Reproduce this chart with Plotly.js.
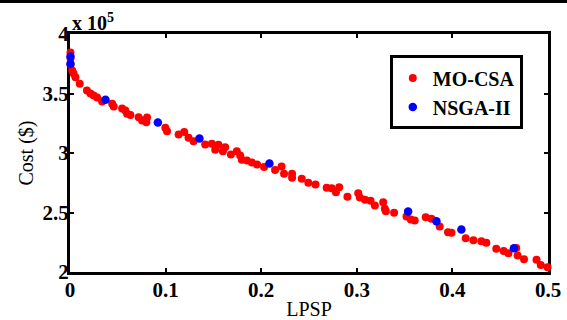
<!DOCTYPE html>
<html>
<head>
<meta charset="utf-8">
<script src="https://cdn.plot.ly/plotly-3.0.1.min.js"></script>
<style>html,body{margin:0;padding:0;background:#fff;}#chart{width:567px;height:320px;}</style>
</head>
<body>
<div id="chart"></div>
<script>
// LPSP values and cost (x 10^5 $)
const moCsaLpsp = [0.0005,0.0005,0.0005,0.0023,0.0037,0.0057,0.0102,0.0177,0.0214,0.0248,0.0284,0.0336,0.0441,0.0457,0.0545,0.0579,0.0597,0.0632,0.0718,0.0754,0.0806,0.0799,0.0997,0.1015,0.1136,0.1195,0.1240,0.1292,0.1414,0.1484,0.1519,0.1553,0.1599,0.1623,0.1683,0.1745,0.1780,0.1797,0.1850,0.1902,0.1957,0.2030,0.2145,0.2213,0.2239,0.2323,0.2323,0.2424,0.2493,0.2568,0.2685,0.2737,0.2782,0.2816,0.2902,0.3015,0.3032,0.3085,0.3144,0.3189,0.3276,0.3293,0.3304,0.3390,0.3520,0.3565,0.3606,0.3721,0.3781,0.3867,0.3954,0.3990,0.4139,0.4220,0.4303,0.4355,0.4459,0.4536,0.4586,0.4668,0.4682,0.4749,0.4880,0.4924,0.4995];
const moCsaCost = [3.845,3.794,3.744,3.693,3.668,3.637,3.582,3.525,3.500,3.483,3.466,3.433,3.413,3.391,3.374,3.357,3.329,3.319,3.301,3.273,3.298,3.259,3.212,3.183,3.155,3.176,3.128,3.099,3.071,3.077,3.027,3.069,3.015,3.049,2.987,3.015,2.979,2.943,2.937,2.920,2.903,2.882,2.857,2.887,2.825,2.825,2.792,2.783,2.750,2.735,2.708,2.704,2.671,2.713,2.632,2.662,2.626,2.607,2.598,2.559,2.587,2.531,2.511,2.497,2.466,2.441,2.433,2.461,2.447,2.382,2.334,2.329,2.284,2.267,2.259,2.245,2.196,2.176,2.158,2.202,2.139,2.108,2.103,2.059,2.040];
const nsgaLpsp = [0.0005,0.0005,0.0371,0.0919,0.1354,0.2086,0.3537,0.3833,0.4094,0.4643];
const nsgaCost = [3.811,3.750,3.447,3.256,3.122,2.912,2.508,2.427,2.357,2.200];
const xTicks = [0,0.1,0.2,0.3,0.4,0.5];
const xTickText = ['0','0.1','0.2','0.3','0.4','0.5'];
const yTicks = [2,2.5,3,3.5,4];
const yTickText = ['2','2.5','3','3.5','4'];
const seriesNames = ['MO-CSA','NSGA-II'];

const FONT = '"Liberation Serif"';

const traces = [
  {x: moCsaLpsp, y: moCsaCost, name: '<b>' + seriesNames[0] + '</b>', type: 'scatter', mode: 'markers',
   marker: {color: '#ff0000', size: 8}, cliponaxis: false},
  {x: nsgaLpsp, y: nsgaCost, name: '<b>' + seriesNames[1] + '</b>', type: 'scatter', mode: 'markers',
   marker: {color: '#0000ff', size: 8.5}, cliponaxis: false}
];

const axisCommon = {
  showgrid: false, zeroline: false, showline: true, linecolor: '#000', linewidth: 3,
  mirror: 'ticks', ticks: 'inside', ticklen: 4, tickwidth: 2, tickcolor: '#000',
  tickfont: {family: FONT, size: 21, color: '#000'},
  layer: 'below traces'
};

const layout = {
  width: 567, height: 320,
  margin: {l: 70, r: 19, t: 34, b: 48},
  paper_bgcolor: '#fff', plot_bgcolor: '#fff',
  showlegend: true,
  xaxis: Object.assign({}, axisCommon, {
    range: [0, 0.5], tickvals: xTicks, ticktext: xTickText.map(t => '<b>' + t + '</b>'),
    ticklabelstandoff: -3,
    title: {text: 'LPSP', font: {family: FONT, size: 20, color: '#000'}, standoff: 2}
  }),
  yaxis: Object.assign({}, axisCommon, {
    range: [2, 4], tickvals: yTicks, ticktext: yTickText.map(t => '<b>' + t + '</b>'),
    ticklabelstandoff: -6,
    title: {text: 'Cost ($)', font: {family: FONT, size: 20, color: '#000'}, standoff: 4}
  }),
  legend: {
    x: 0.669, y: 0.91, xanchor: 'left', yanchor: 'top',
    bgcolor: '#fff', bordercolor: '#000', borderwidth: 3,
    font: {family: FONT, size: 20, color: '#000'},
    tracegroupgap: 0, itemwidth: 30
  },
  annotations: [{
    xref: 'paper', yref: 'paper', x: 0, y: 1, xanchor: 'left', yanchor: 'bottom',
    xshift: 0, yshift: -2,
    text: '<b>x 10<sup>5</sup></b>', showarrow: false,
    font: {family: FONT, size: 20, color: '#000'}
  }],
  shapes: [{
    type: 'line', xref: 'paper', yref: 'paper', x0: -0.2, x1: 1.1, y0: 1.137, y1: 1.137,
    line: {color: '#000', width: 3}
  }]
};

Plotly.newPlot('chart', traces, layout, {displayModeBar: false, staticPlot: true});
</script>
</body>
</html>
